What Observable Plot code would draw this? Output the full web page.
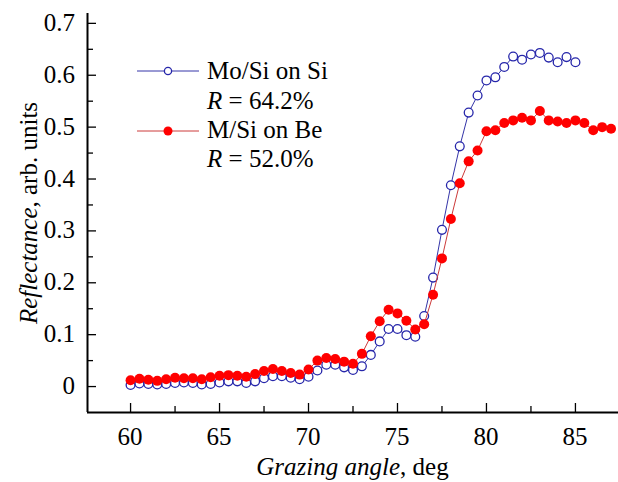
<!DOCTYPE html>
<html>
<head>
<meta charset="utf-8">
<script src="https://cdn.jsdelivr.net/npm/d3@7"></script>
<script src="https://cdn.jsdelivr.net/npm/@observablehq/plot@0.6"></script>
<style>
  body { margin: 0; background: #fff; }
  #chart { position: relative; width: 618px; height: 482px; overflow: hidden; }
  #chart svg { position: absolute; left: 0; top: 0; }
</style>
</head>
<body>
<div id="chart"></div>
<script>
// Mo/Si on Si (open blue circles)
const angleSi = [60, 60.5, 61, 61.5, 62, 62.5, 63, 63.5, 64, 64.5, 65, 65.5, 66, 66.5, 67, 67.5, 68, 68.5, 69, 69.5,
  70, 70.5, 71, 71.5, 72, 72.5, 73, 73.5, 74, 74.5, 75, 75.5, 76, 76.5, 77, 77.5, 78, 78.5, 79, 79.5,
  80, 80.5, 81, 81.5, 82, 82.5, 83, 83.5, 84, 84.5, 85];
const reflSi = [0.003, 0.006, 0.005, 0.004, 0.005, 0.007, 0.008, 0.007, 0.004, 0.005, 0.008, 0.010, 0.010, 0.007, 0.010, 0.016, 0.020, 0.020, 0.017, 0.014,
  0.019, 0.031, 0.042, 0.042, 0.037, 0.032, 0.039, 0.061, 0.087, 0.111, 0.111, 0.099, 0.096, 0.136, 0.210, 0.302, 0.388, 0.463, 0.528, 0.561,
  0.590, 0.596, 0.616, 0.636, 0.630, 0.640, 0.643, 0.634, 0.625, 0.635, 0.625];

// M/Si on Be (filled red circles)
const angleBe = [60, 60.5, 61, 61.5, 62, 62.5, 63, 63.5, 64, 64.5, 65, 65.5, 66, 66.5, 67, 67.5, 68, 68.5, 69, 69.5,
  70, 70.5, 71, 71.5, 72, 72.5, 73, 73.5, 74, 74.5, 75, 75.5, 76, 76.5, 77, 77.5, 78, 78.5, 79, 79.5,
  80, 80.5, 81, 81.5, 82, 82.5, 83, 83.5, 84, 84.5, 85, 85.5, 86, 86.5, 87];
const reflBe = [0.012, 0.015, 0.013, 0.011, 0.014, 0.017, 0.016, 0.016, 0.014, 0.018, 0.021, 0.022, 0.021, 0.019, 0.024, 0.030, 0.034, 0.030, 0.026, 0.023,
  0.033, 0.050, 0.055, 0.053, 0.048, 0.044, 0.063, 0.097, 0.126, 0.148, 0.141, 0.127, 0.110, 0.120, 0.177, 0.247, 0.323, 0.392, 0.434, 0.455,
  0.492, 0.494, 0.508, 0.513, 0.518, 0.513, 0.531, 0.513, 0.511, 0.508, 0.513, 0.508, 0.494, 0.500, 0.497];

// Ticks
const xMajor = [60, 65, 70, 75, 80, 85];
const xLabels = ["60", "65", "70", "75", "80", "85"];
const xMinor = [62.5, 67.5, 72.5, 77.5, 82.5];
const yMajor = [0, 0.1, 0.2, 0.3, 0.4, 0.5, 0.6, 0.7];
const yLabels = ["0", "0.1", "0.2", "0.3", "0.4", "0.5", "0.6", "0.7"];
const yMinor = [0.05, 0.15, 0.25, 0.35, 0.45, 0.55, 0.65];

const seriesNames = ["Mo/Si on Si", "M/Si on Be"];
const seriesR = ["64.2%", "52.0%"];

const xDomain = [57.58, 87.42];
const yDomain = [-0.05, 0.719];

const siData = angleSi.map((a, i) => ({angle: a, r: reflSi[i]}));
const beData = angleBe.map((a, i) => ({angle: a, r: reflBe[i]}));

const BLUE = "#2626aa";
const BLUE_LINE = "#3434a8";
const RED = "#ff0000";
const RED_LINE = "#cc3a3a";
const SERIF = '"Liberation Serif", Tinos, Times, monospace';

const plot = Plot.plot({
  width: 618,
  height: 482,
  marginLeft: 87,
  marginRight: 0,
  marginTop: 13,
  marginBottom: 70,
  x: {domain: xDomain},
  y: {domain: yDomain},
  style: {color: "#000", background: "#fff"},
  marks: [
    // inward ticks
    Plot.axisX(xMajor, {tickSize: -9, fill: "none", label: null, strokeWidth: 1.3}),
    Plot.axisX(xMinor, {tickSize: -6, fill: "none", label: null, strokeWidth: 1.3}),
    Plot.axisY(yMajor, {tickSize: -9, fill: "none", label: null, strokeWidth: 1.3}),
    Plot.axisY(yMinor, {tickSize: -6, fill: "none", label: null, strokeWidth: 1.3}),
    // axis lines
    Plot.ruleY([yDomain[0]], {stroke: "#000", strokeWidth: 2}),
    Plot.ruleX([xDomain[0]], {stroke: "#000", strokeWidth: 2}),
    // data
    Plot.line(siData, {x: "angle", y: "r", stroke: BLUE_LINE, strokeWidth: 1}),
    Plot.dot(siData, {x: "angle", y: "r", r: 4.4, stroke: BLUE, strokeWidth: 1.3, fill: "#fff"}),
    Plot.line(beData, {x: "angle", y: "r", stroke: RED_LINE, strokeWidth: 1}),
    Plot.dot(beData, {x: "angle", y: "r", r: 5, fill: RED, stroke: "none"})
  ]
});

const chart = document.getElementById("chart");
chart.appendChild(plot);

const xs = plot.scale("x");
const ys = plot.scale("y");
const ASC = 20.94; // baseline offset inside a 25px line box (Liberation Serif)

// HTML text helper: parts = [[string, italic], ...]
function addText(parts, x, baseline, anchor, rotate) {
  const d = document.createElement("div");
  d.style.position = "absolute";
  d.style.setProperty("font-family", SERIF, "important");
  d.style.fontSize = "25px";
  d.style.lineHeight = "25px";
  d.style.whiteSpace = "nowrap";
  d.style.color = "#000";
  d.style.left = x + "px";
  parts.forEach(([s, it]) => {
    const sp = document.createElement("span");
    sp.style.setProperty("font-family", SERIF, "important");
    if (it) sp.style.fontStyle = "italic";
    sp.textContent = s;
    d.appendChild(sp);
  });
  if (rotate) {
    d.style.top = baseline + "px";
    d.style.transformOrigin = "0 0";
    d.style.transform = `rotate(-90deg) translate(-50%, -${ASC}px)`;
  } else {
    d.style.top = (baseline - ASC) + "px";
    const tx = anchor === "middle" ? "-50%" : anchor === "end" ? "-100%" : "0";
    d.style.transform = `translateX(${tx})`;
  }
  chart.appendChild(d);
}

// tick labels placed through the Plot scales
const axisX0 = xs.apply(xDomain[0]);
const axisY0 = ys.apply(yDomain[0]);
xMajor.forEach((v, i) => addText([[xLabels[i], false]], xs.apply(v), axisY0 + 33, "middle"));
yMajor.forEach((v, i) => addText([[yLabels[i], false]], axisX0 - 12, ys.apply(v) + 8, "end"));

// axis titles
addText([["Grazing angle", true], [", deg", false]], (axisX0 + 618) / 2, 475, "middle");
addText([["Reflectance", true], [", arb. units", false]], 37, (13 + axisY0) / 2, "middle", true);

// legend
const svg = d3.select(plot);
const legRows = [
  {name: seriesNames[0], R: seriesR[0], lineY: 71, base1: 79, base2: 109, line: BLUE_LINE, filled: false},
  {name: seriesNames[1], R: seriesR[1], lineY: 131, base1: 138, base2: 167, line: RED_LINE, filled: true}
];
const lg = svg.append("g");
legRows.forEach(row => {
  lg.append("line").attr("x1", 137).attr("x2", 199).attr("y1", row.lineY).attr("y2", row.lineY)
    .attr("stroke", row.line).attr("stroke-width", 1);
  lg.append("circle").attr("cx", 168).attr("cy", row.lineY)
    .attr("r", row.filled ? 4.5 : 3.6)
    .attr("fill", row.filled ? RED : "#fff")
    .attr("stroke", row.filled ? "none" : BLUE).attr("stroke-width", 1.3);
  addText([[row.name, false]], 207, row.base1, "start");
  addText([["R", true], [" = " + row.R, false]], 207, row.base2, "start");
});
</script>
</body>
</html>
